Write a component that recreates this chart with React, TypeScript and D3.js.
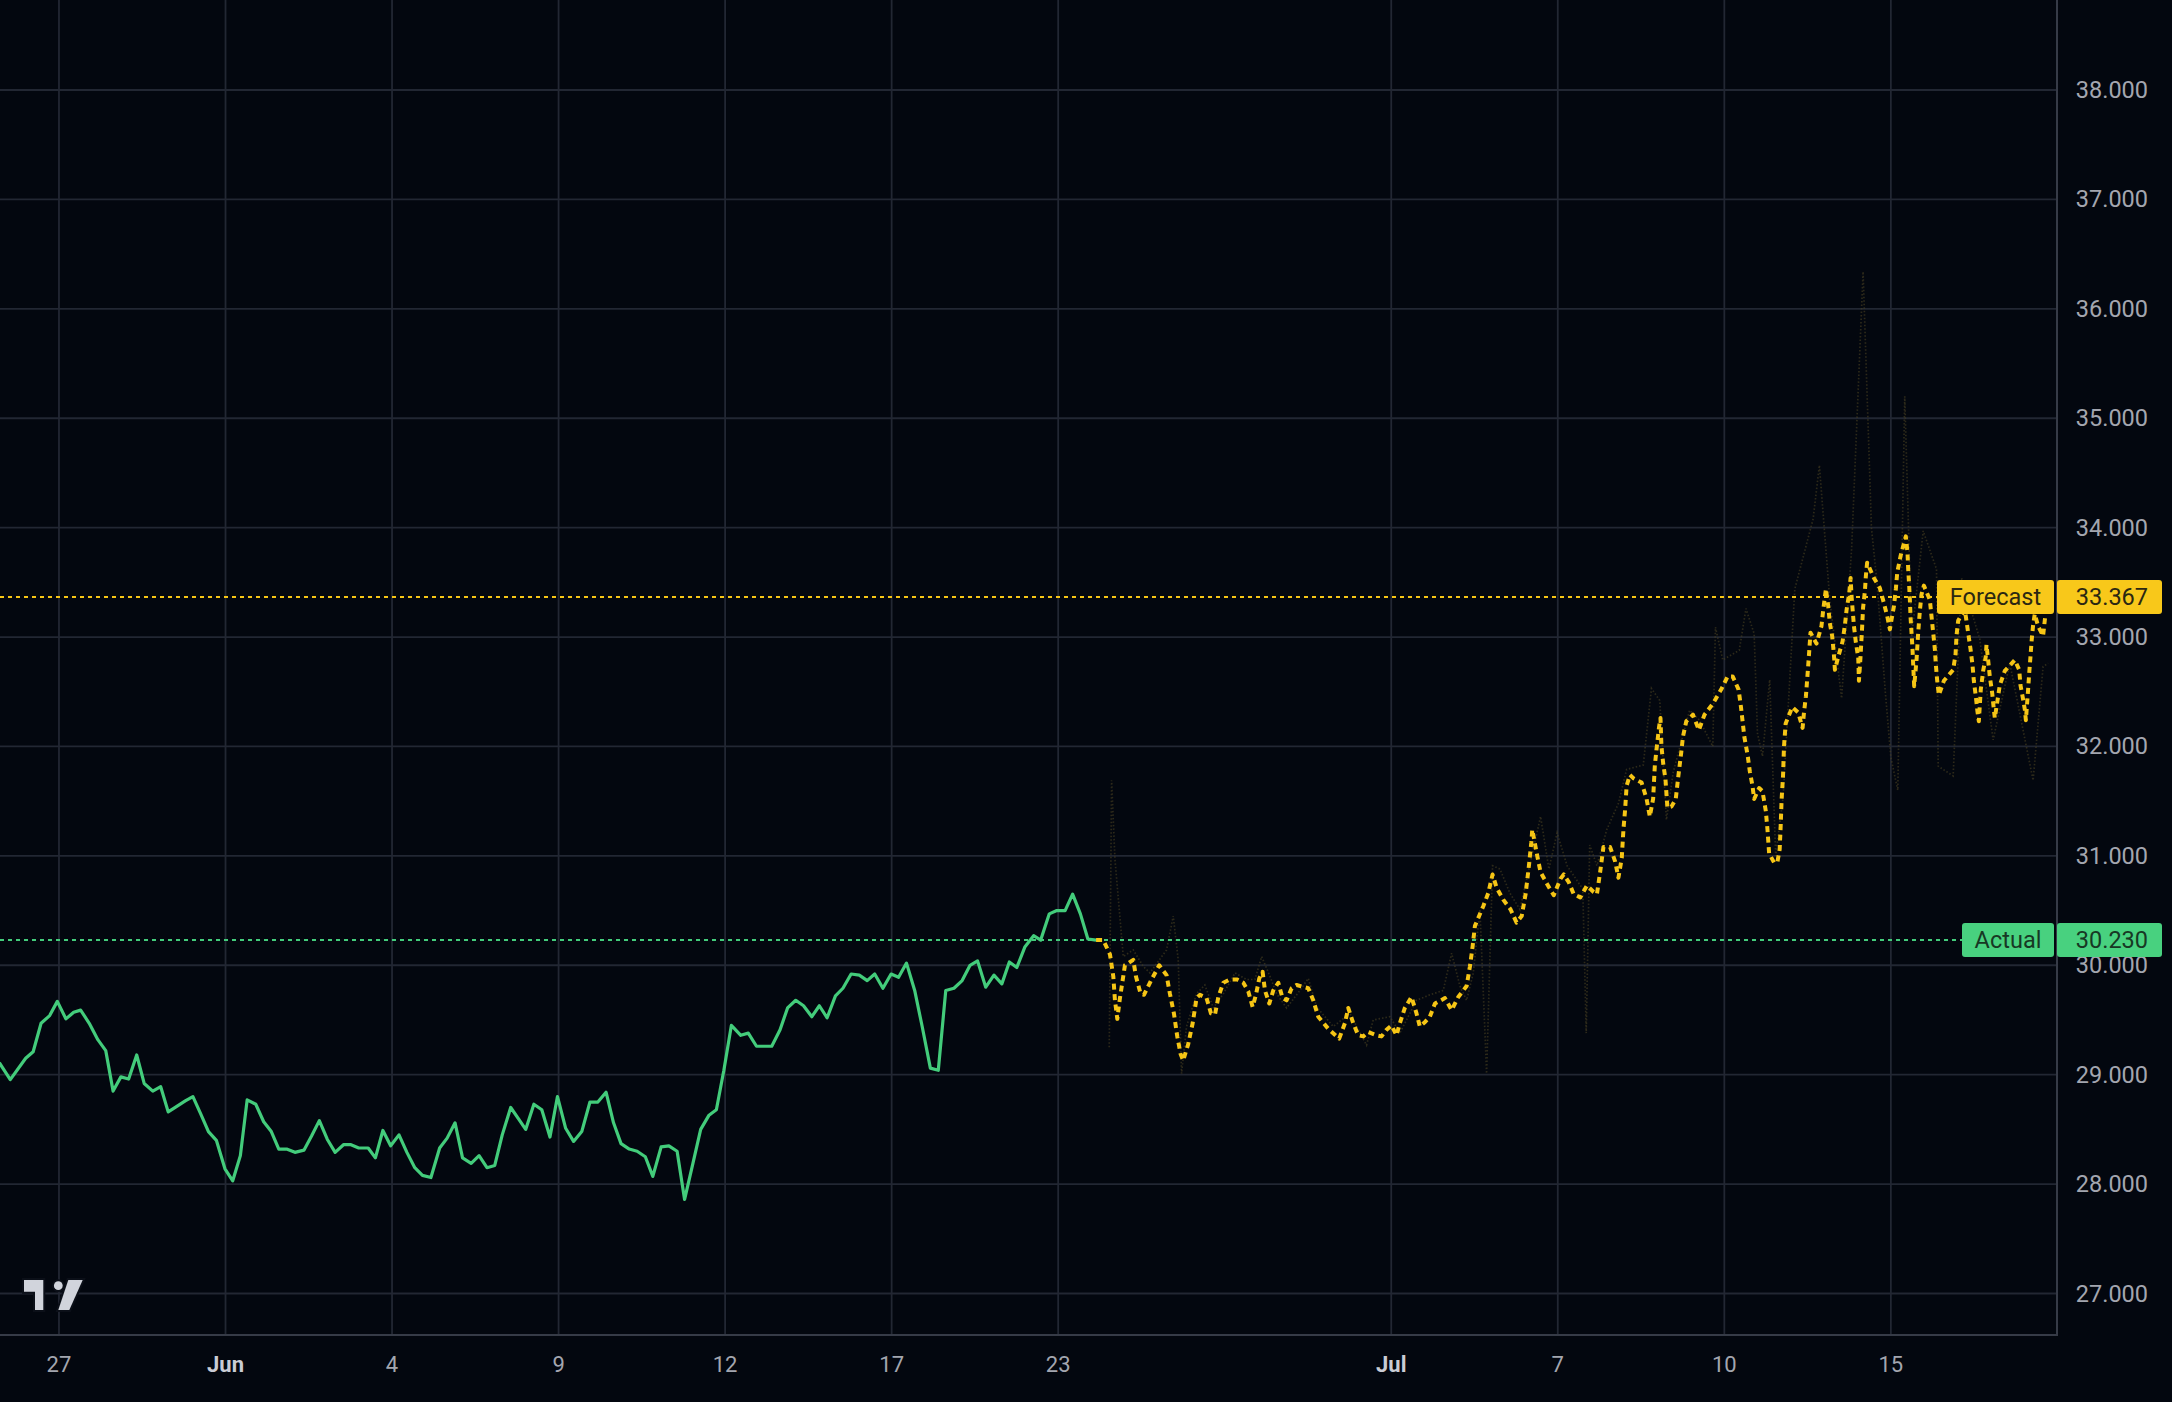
import React from 'react';
import * as d3 from 'd3';

// ---------- DATA ----------
// x positions are bar indices (12 bars between regular date ticks)
const tickLabels = ['27', 'Jun', '4', '9', '12', '17', '23', 'Jul', '7', '10', '15'];
const tickBars = [4, 16, 28, 40, 52, 64, 76, 100, 112, 124, 136];
const monthLabels = ['Jun', 'Jul'];

const actualSeries: [number, number][] = [
  [-0.3, 29.11], [0.49, 28.955], [1.6, 29.15], [2.14, 29.21], [2.71, 29.47], [3.33, 29.54], [3.88, 29.67], [4.5, 29.51],
  [5.06, 29.57], [5.56, 29.59], [6.18, 29.47], [6.8, 29.32], [7.37, 29.22], [7.9, 28.85], [8.46, 28.98], [9.02, 28.96],
  [9.6, 29.18], [10.14, 28.92], [10.76, 28.85], [11.33, 28.89], [11.87, 28.66], [12.49, 28.71], [13.1, 28.76], [13.65, 28.8],
  [14.22, 28.64], [14.77, 28.48], [15.34, 28.4], [15.96, 28.14], [16.52, 28.03], [17.07, 28.26], [17.56, 28.77], [18.18, 28.73],
  [18.75, 28.57], [19.3, 28.48], [19.84, 28.32], [20.4, 28.32], [21.0, 28.29], [21.65, 28.31], [22.2, 28.44], [22.76, 28.58],
  [23.33, 28.41], [23.9, 28.29], [24.5, 28.36], [25.04, 28.36], [25.6, 28.33], [26.28, 28.33], [26.8, 28.24], [27.34, 28.49],
  [27.9, 28.35], [28.5, 28.45], [29.07, 28.29], [29.64, 28.15], [30.19, 28.08], [30.8, 28.06], [31.43, 28.33], [31.97, 28.42],
  [32.54, 28.56], [33.08, 28.24], [33.7, 28.19], [34.27, 28.26], [34.84, 28.15], [35.4, 28.17], [35.94, 28.45], [36.55, 28.7],
  [37.09, 28.6], [37.63, 28.5], [38.22, 28.73], [38.79, 28.68], [39.38, 28.43], [39.92, 28.8], [40.51, 28.51], [41.08, 28.39],
  [41.67, 28.48], [42.26, 28.75], [42.83, 28.75], [43.42, 28.84], [43.96, 28.56], [44.5, 28.37], [45.09, 28.32], [45.66, 28.3],
  [46.25, 28.25], [46.79, 28.07], [47.39, 28.34], [47.95, 28.35], [48.54, 28.3], [49.08, 27.86], [49.68, 28.19], [50.24, 28.5],
  [50.84, 28.63], [51.37, 28.68], [51.91, 29.04], [52.45, 29.45], [53.13, 29.36], [53.67, 29.38], [54.26, 29.26], [54.82, 29.26],
  [55.36, 29.26], [55.96, 29.41], [56.5, 29.61], [57.09, 29.68], [57.65, 29.63], [58.25, 29.53], [58.79, 29.63], [59.35, 29.52],
  [59.95, 29.72], [60.49, 29.79], [61.08, 29.92], [61.67, 29.91], [62.24, 29.86], [62.78, 29.92], [63.37, 29.79], [63.96, 29.92],
  [64.5, 29.89], [65.07, 30.02], [65.66, 29.77], [66.2, 29.44], [66.79, 29.06], [67.36, 29.04], [67.9, 29.77], [68.49, 29.79],
  [69.08, 29.86], [69.65, 30.0], [70.19, 30.04], [70.78, 29.8], [71.37, 29.91], [71.94, 29.83], [72.48, 30.03], [73.02, 29.98],
  [73.61, 30.17], [74.23, 30.27], [74.74, 30.23], [75.36, 30.47], [75.9, 30.5], [76.5, 30.5], [77.04, 30.65], [77.6, 30.47],
  [78.14, 30.24], [78.73, 30.23],
];

const forecastSeries: [number, number][] = [
  [78.73, 30.23], [79.25, 30.23], [79.73, 30.1], [79.97, 29.9], [80.09, 29.68], [80.26, 29.51], [80.45, 29.7], [80.81, 30.0],
  [81.41, 30.05], [81.6, 29.9], [81.94, 29.74], [82.18, 29.73], [82.73, 29.87], [83.28, 30.0], [83.81, 29.91], [84.05, 29.74],
  [84.34, 29.56], [84.58, 29.35], [84.82, 29.19], [85.01, 29.13], [85.37, 29.28], [85.69, 29.47], [85.97, 29.7], [86.21, 29.73],
  [86.69, 29.7], [87.01, 29.56], [87.3, 29.55], [87.54, 29.71], [87.9, 29.84], [88.38, 29.87], [88.9, 29.87], [89.34, 29.84],
  [89.7, 29.76], [90.01, 29.62], [90.25, 29.73], [90.49, 29.88], [90.73, 29.94], [90.9, 29.77], [91.21, 29.65], [91.5, 29.77],
  [91.86, 29.84], [92.17, 29.7], [92.46, 29.68], [92.82, 29.79], [93.18, 29.82], [94.02, 29.79], [94.38, 29.68], [94.74, 29.53],
  [95.46, 29.42], [96.25, 29.33], [96.66, 29.47], [96.9, 29.61], [97.26, 29.47], [97.62, 29.36], [97.98, 29.35], [98.34, 29.39],
  [98.94, 29.36], [99.3, 29.35], [99.66, 29.41], [100.02, 29.45], [100.38, 29.36], [100.62, 29.47], [100.98, 29.61], [101.46, 29.71],
  [101.82, 29.56], [102.06, 29.44], [102.42, 29.48], [102.78, 29.53], [103.15, 29.65], [103.87, 29.7], [104.35, 29.59], [104.83, 29.71],
  [105.43, 29.81], [105.67, 29.99], [105.86, 30.17], [106.03, 30.36], [106.63, 30.54], [106.99, 30.66], [107.3, 30.83], [107.59, 30.71],
  [108.07, 30.6], [108.6, 30.51], [109.03, 30.39], [109.4, 30.45], [109.68, 30.65], [109.92, 30.91], [110.09, 31.12], [110.16, 31.24],
  [110.52, 31.0], [110.76, 30.85], [111.24, 30.74], [111.71, 30.64], [112.19, 30.79], [112.43, 30.83], [112.79, 30.76], [113.15, 30.65],
  [113.62, 30.62], [114.1, 30.73], [114.58, 30.67], [114.82, 30.65], [115.05, 30.85], [115.29, 31.08], [115.77, 31.08], [116.13, 30.95],
  [116.37, 30.8], [116.61, 30.98], [116.73, 31.24], [116.85, 31.42], [116.96, 31.64], [117.2, 31.74], [117.44, 31.71], [118.04, 31.67],
  [118.4, 31.52], [118.63, 31.36], [118.87, 31.52], [118.99, 31.82], [119.11, 31.97], [119.3, 32.18], [119.4, 32.26], [119.47, 32.0],
  [119.59, 31.85], [119.76, 31.7], [119.9, 31.44], [120.19, 31.45], [120.5, 31.52], [120.66, 31.7], [120.9, 31.95], [121.02, 32.09],
  [121.26, 32.23], [121.74, 32.29], [122.17, 32.15], [122.57, 32.29], [123.17, 32.39], [123.77, 32.52], [124.24, 32.64], [124.6, 32.64],
  [125.03, 32.52], [125.2, 32.36], [125.44, 32.09], [125.68, 31.92], [125.84, 31.77], [126.03, 31.64], [126.15, 31.52], [126.51, 31.62],
  [126.75, 31.59], [126.99, 31.41], [127.11, 31.24], [127.23, 31.02], [127.58, 30.94], [127.82, 30.94], [127.99, 31.06], [128.06, 31.27],
  [128.13, 31.52], [128.23, 31.73], [128.3, 32.0], [128.42, 32.21], [128.9, 32.36], [129.32, 32.31], [129.64, 32.17], [129.74, 32.31],
  [129.88, 32.46], [130.04, 32.73], [130.21, 33.04], [130.64, 32.94], [131.0, 33.1], [131.12, 33.24], [131.32, 33.44], [131.49, 33.28],
  [131.6, 33.13], [131.77, 33.01], [131.89, 32.85], [131.97, 32.7], [132.21, 32.82], [132.52, 32.96], [132.69, 33.11], [132.81, 33.25],
  [133.0, 33.4], [133.1, 33.54], [133.17, 33.37], [133.34, 33.1], [133.48, 32.95], [133.65, 32.81], [133.7, 32.6], [133.81, 32.81],
  [133.91, 33.04], [134.0, 33.27], [134.13, 33.42], [134.2, 33.56], [134.29, 33.68], [134.78, 33.54], [135.2, 33.45], [135.5, 33.31],
  [135.74, 33.19], [135.93, 33.07], [136.05, 33.16], [136.22, 33.28], [136.36, 33.44], [136.46, 33.59], [136.7, 33.74], [137.01, 33.89],
  [137.08, 33.92], [137.2, 33.77], [137.25, 33.62], [137.32, 33.47], [137.37, 33.34], [137.42, 33.18], [137.49, 33.04], [137.56, 32.89],
  [137.68, 32.55], [137.85, 32.79], [137.97, 33.04], [138.09, 33.24], [138.21, 33.39], [138.38, 33.47], [138.81, 33.34], [138.93, 33.19],
  [139.05, 33.04], [139.17, 32.89], [139.24, 32.75], [139.34, 32.6], [139.46, 32.47], [139.82, 32.6], [140.49, 32.7], [140.66, 32.84],
  [140.73, 33.01], [140.85, 33.15], [141.33, 33.25], [141.57, 33.04], [141.74, 32.89], [141.88, 32.75], [141.98, 32.6], [142.12, 32.46],
  [142.24, 32.32], [142.34, 32.23], [142.48, 32.52], [142.65, 32.69], [142.84, 32.82], [142.89, 32.93], [143.01, 32.79], [143.13, 32.64],
  [143.3, 32.49], [143.42, 32.34], [143.49, 32.26], [143.66, 32.4], [143.85, 32.56], [144.21, 32.69], [144.93, 32.79], [145.25, 32.7],
  [145.34, 32.56], [145.53, 32.43], [145.65, 32.34], [145.73, 32.24], [145.89, 32.52], [145.97, 32.67], [146.06, 32.82], [146.14, 32.96],
  [146.25, 33.11], [146.37, 33.21], [146.61, 33.1], [146.97, 33.01], [147.09, 33.15], [147.27, 33.367],
];

// faint, volatile secondary forecast trace
const forecastRangeSeries: [number, number][] = [
  [79.68, 29.25], [79.85, 31.69], [80.09, 30.97], [80.69, 30.08], [81.41, 30.14], [82.13, 29.99], [82.61, 29.93], [83.81, 30.14],
  [84.29, 30.45], [84.65, 30.05], [84.89, 29.01], [85.25, 29.44], [85.97, 29.74], [86.57, 29.82], [87.18, 29.61], [87.9, 29.74],
  [88.74, 29.93], [89.58, 29.87], [90.18, 29.87], [90.66, 30.08], [91.26, 29.9], [91.74, 29.74], [92.46, 29.61], [93.42, 29.77],
  [94.02, 29.88], [94.62, 29.62], [95.82, 29.44], [97.02, 29.56], [98.22, 29.27], [98.7, 29.5], [99.9, 29.53], [100.62, 29.38],
  [101.82, 29.68], [102.78, 29.73], [103.75, 29.77], [104.35, 30.11], [104.95, 29.81], [105.43, 29.68], [105.91, 29.93], [106.39, 30.51],
  [106.87, 29.01], [107.3, 30.91], [107.83, 30.88], [108.55, 30.66], [109.27, 30.51], [110.76, 31.36], [111.36, 30.88], [111.95, 31.21],
  [112.67, 30.91], [113.62, 30.73], [113.8, 30.7], [114.05, 29.38], [114.3, 31.1], [114.82, 30.91], [115.53, 31.24], [116.37, 31.48],
  [116.96, 31.79], [118.16, 31.83], [118.75, 32.53], [119.35, 32.42], [119.83, 31.33], [120.31, 31.76], [121.5, 32.33], [122.21, 32.24],
  [123.17, 32.0], [123.36, 33.09], [123.89, 32.79], [125.08, 32.88], [125.56, 33.26], [126.15, 33.03], [126.39, 32.12], [126.75, 31.91],
  [127.27, 32.61], [127.7, 31.0], [128.24, 31.54], [129.08, 33.44], [130.4, 34.08], [130.85, 34.57], [131.6, 33.34], [132.45, 32.44],
  [133.17, 33.8], [134.0, 36.34], [134.6, 34.0], [135.0, 33.5], [135.6, 32.5], [136.0, 31.9], [136.5, 31.6], [137.0, 35.2],
  [137.5, 33.0], [138.33, 33.97], [139.29, 33.62], [139.41, 31.82], [140.49, 31.73], [141.09, 33.54], [142.41, 32.98], [143.37, 32.06],
  [144.57, 32.76], [146.25, 31.69], [146.97, 32.73], [147.33, 32.76],
];

const actualLast = 30.23;
const forecastLast = 33.367;
const actualName = 'Actual';
const forecastName = 'Forecast';

// ---------- LAYOUT ----------
const W = 2172;
const H = 1402;
const plotRight = 2056;
const plotBottom = 1334;

const BG = '#03070f';
const GRID = '#222733';
const AXIS = '#363b47';
const TEXT = '#a3a6af';
const GREEN = '#43cc7b';
const GREEN_BOX = '#48d17f';
const YELLOW = '#f6c515';
const YELLOW_BOX = '#f8c81a';
const FONT = 'Roboto, "Noto Sans", sans-serif';

export default function App() {
  const x = d3.scaleLinear().domain([-0.25, 147.9]).range([0, plotRight]);
  const y = d3.scaleLinear().domain([27, 38]).range([1293.5, 90]);

  const line = d3
    .line<[number, number]>()
    .x((d) => x(d[0]))
    .y((d) => y(d[1]));

  const yTicks = y.ticks(12).filter((v) => v >= 27 && v <= 38);
  const fmt = d3.format('.3f');

  const boxH = 34;
  const axisBoxX = plotRight + 1;
  const axisBoxW = 105;

  const priceLabel = (value: number, name: string, fill: string, textFill: string, nameW: number) => {
    const cy = y(value);
    return (
      <g>
        <rect x={plotRight - 2 - nameW} y={cy - boxH / 2} width={nameW} height={boxH} rx={3} fill={fill} />
        <text
          x={plotRight - 2 - nameW / 2}
          y={cy}
          fill={textFill}
          fontSize={23.5}
          fontFamily={FONT}
          textAnchor="middle"
          dominantBaseline="central"
        >
          {name}
        </text>
        <rect x={axisBoxX} y={cy - boxH / 2} width={axisBoxW} height={boxH} rx={3} fill={fill} />
        <text
          x={2148}
          y={cy}
          fill={textFill}
          fontSize={23.5}
          fontFamily={FONT}
          textAnchor="end"
          dominantBaseline="central"
        >
          {fmt(value)}
        </text>
      </g>
    );
  };

  return (
    <svg
      width={W}
      height={H}
      style={{ position: 'absolute', left: 0, top: 0, display: 'block', background: BG }}
    >
      <rect x={0} y={0} width={W} height={H} fill={BG} />
      <defs>
        <clipPath id="plotClip">
          <rect x={0} y={0} width={plotRight} height={plotBottom} />
        </clipPath>
      </defs>

      {/* grid */}
      <g>
        {tickBars.map((b, i) => (
          <line key={'vg' + i} x1={x(b)} x2={x(b)} y1={0} y2={plotBottom} stroke={GRID} strokeWidth={1.8} />
        ))}
        {yTicks.map((v) => (
          <line key={'hg' + v} x1={0} x2={plotRight} y1={y(v)} y2={y(v)} stroke={GRID} strokeWidth={1.8} />
        ))}
      </g>

      {/* axes borders */}
      <line x1={0} x2={plotRight} y1={plotBottom + 1} y2={plotBottom + 1} stroke={AXIS} strokeWidth={2} />
      <line x1={plotRight + 1} x2={plotRight + 1} y1={0} y2={plotBottom + 2} stroke={AXIS} strokeWidth={2} />

      <g clipPath="url(#plotClip)">
        {/* faint secondary trace */}
        <path
          d={line(forecastRangeSeries) || ''}
          fill="none"
          stroke="#4a4122"
          strokeOpacity={0.6}
          strokeWidth={1.7}
          strokeDasharray="1.5,2"
        />

        {/* reference last-value lines */}
        <line
          x1={0}
          x2={plotRight}
          y1={y(forecastLast)}
          y2={y(forecastLast)}
          stroke={YELLOW}
          strokeWidth={2}
          strokeDasharray="4,4"
        />
        <line
          x1={0}
          x2={plotRight}
          y1={y(actualLast)}
          y2={y(actualLast)}
          stroke={GREEN}
          strokeWidth={2}
          strokeDasharray="4,4"
        />

        {/* actual */}
        <path d={line(actualSeries) || ''} fill="none" stroke={GREEN} strokeWidth={3.2} strokeLinejoin="round" />
        {/* forecast */}
        <path
          d={line(forecastSeries) || ''}
          fill="none"
          stroke={YELLOW}
          strokeWidth={4}
          strokeDasharray="6,4.5"
          strokeLinejoin="round"
        />
      </g>

      {/* y axis labels */}
      {yTicks.map((v) => (
        <text
          key={'yl' + v}
          x={2148}
          y={y(v)}
          fill={TEXT}
          fontSize={23.5}
          fontFamily={FONT}
          textAnchor="end"
          dominantBaseline="central"
        >
          {fmt(v)}
        </text>
      ))}

      {/* x axis labels */}
      {tickLabels.map((lab, i) => {
        const isMonth = monthLabels.includes(lab);
        return (
          <text
            key={'xl' + i}
            x={x(tickBars[i])}
            y={1364}
            fill={isMonth ? '#c9ccd4' : TEXT}
            fontWeight={isMonth ? 700 : 400}
            fontSize={22}
            fontFamily={FONT}
            textAnchor="middle"
            dominantBaseline="central"
          >
            {lab}
          </text>
        );
      })}

      {/* price labels */}
      {priceLabel(forecastLast, forecastName, YELLOW_BOX, '#2b2712', 117)}
      {priceLabel(actualLast, actualName, GREEN_BOX, '#173824', 92)}

      {/* logo */}
      <g stroke="#0b0f18" strokeWidth={4} strokeLinejoin="miter" fill="#d1d4dc" paintOrder="stroke">
        <path d="M24,1280 L43.3,1280 L43.3,1310 L35,1310 L35,1291.7 L24,1291.7 Z" />
        <circle cx={58.3} cy={1285.7} r={4.4} />
        <path d="M68.3,1280 L82.7,1280 L69.3,1310 L58.3,1310 Z" />
      </g>
    </svg>
  );
}
